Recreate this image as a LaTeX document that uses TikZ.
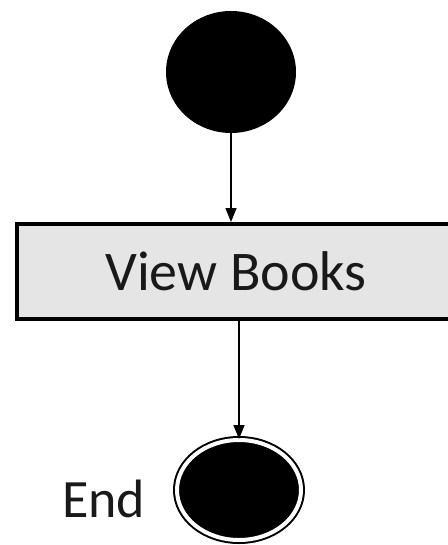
\documentclass[tikz,border=0pt]{standalone}
\usepackage{fontspec}
\setmainfont{Carlito}
\usetikzlibrary{shapes.geometric,arrows.meta}
\tikzstyle{arrow} = [line width=1.5pt,-{Triangle[length=14pt,width=11pt]}]

\begin{document}
\begin{tikzpicture}[x=1pt,y=-1pt]
    \tikzstyle{start state}=[ellipse,fill=black,inner sep=0pt,minimum width=130pt,minimum height=122pt]
    \tikzstyle{end state}=[ellipse,fill=black,draw=black,line width=2pt,double=white,double distance=4pt,inner sep=0pt,minimum width=124pt,minimum height=100pt]
    \tikzstyle{action}=[rectangle,draw=black,line width=4pt,fill=black!10,inner sep=0pt,minimum width=480pt,minimum height=95pt,font=\fontsize{56}{60}\selectfont,text=black!90]
    \tikzstyle{annot}=[font=\fontsize{54}{58}\selectfont,text=black!90,inner sep=0pt]

    \useasboundingbox (0,0) rectangle (447,545);

    % Draw the states
    \node[start state] (start) at (231,72) {};
    \node[action,anchor=west] (view) at (15,271.5) {\hspace*{-42pt}View Books};
    \node[end state] (end) at (239,490) {};
    \node[annot,anchor=base west] (endlabel) at (62,517) {End};

    % Draw the flow
    \draw[arrow] (start.south -| 231,0) -- (view.north -| 231,0);
    \draw[arrow] (view.south -| end.north) -- (end.north);
\end{tikzpicture}
\end{document}
